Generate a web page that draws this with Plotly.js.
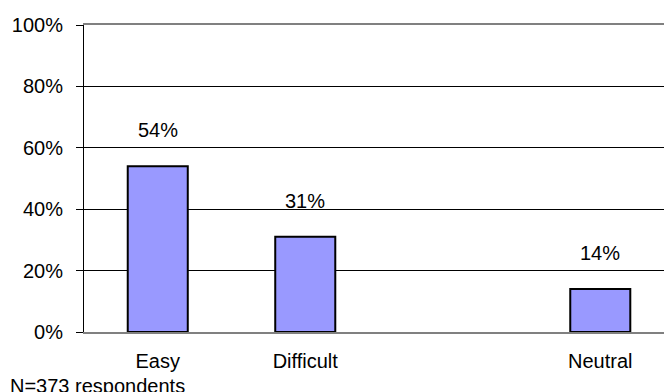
<!DOCTYPE html>
<html>
<head>
<meta charset="utf-8">
<script src="https://cdn.plot.ly/plotly-3.0.1.min.js"></script>
<style>html,body{margin:0;padding:0;background:#fff;}#chart{width:664px;height:392px;}</style>
</head>
<body>
<div id="chart"></div>
<script>
// Data
var categories = ["Easy", "Difficult", "Neutral"];
var positions = [0, 1, 3];
var values = [54, 31, 14];
var yTicks = [0, 20, 40, 60, 80, 100];
var note = "N=373 respondents";

var FONT = "Arial, 'Liberation Sans', sans-serif";
var FS = 20;

var trace = {
  type: "bar",
  x: positions,
  y: values,
  width: 0.407,
  marker: {color: "#9999FF", line: {color: "#000000", width: 2}},
  hoverinfo: "none"
};

var annotations = values.map(function (v, i) {
  return {
    x: positions[i], y: v, xref: "x", yref: "y",
    text: v + "%", showarrow: false, yanchor: "bottom", yshift: 23,
    font: {family: FONT, size: FS, color: "#000"}
  };
});
annotations.push({
  xref: "paper", yref: "paper", x: 0, y: 0, xanchor: "left", yanchor: "top",
  xshift: -76, yshift: -41, text: note, showarrow: false,
  font: {family: FONT, size: FS, color: "#000"}
});

var layout = {
  width: 664, height: 392,
  margin: {l: 84, r: 0, t: 25, b: 60},
  paper_bgcolor: "#fff", plot_bgcolor: "#fff",
  showlegend: false,
  font: {family: FONT, size: FS, color: "#000"},
  xaxis: {
    type: "linear", range: [-0.5, 3.432],
    tickmode: "array", tickvals: positions, ticktext: categories,
    showgrid: false, zeroline: false,
    showline: true, linecolor: "#808080", linewidth: 2, mirror: true,
    ticks: "", ticklabelstandoff: 10,
    tickfont: {family: FONT, size: FS, color: "#000"},
    fixedrange: true
  },
  yaxis: {
    range: [0, 100],
    tickmode: "array", tickvals: yTicks,
    ticktext: yTicks.map(function (t) { return t + "%"; }),
    showgrid: true, gridcolor: "#000", gridwidth: 1,
    zeroline: false,
    showline: true, linecolor: "#000", linewidth: 1,
    ticks: "outside", ticklen: 7, tickcolor: "#000", tickwidth: 1,
    ticklabelstandoff: 9,
    tickfont: {family: FONT, size: FS, color: "#000"},
    fixedrange: true
  },
  annotations: annotations
};

Plotly.newPlot("chart", [trace], layout, {displayModeBar: false, staticPlot: true});
</script>
</body>
</html>
